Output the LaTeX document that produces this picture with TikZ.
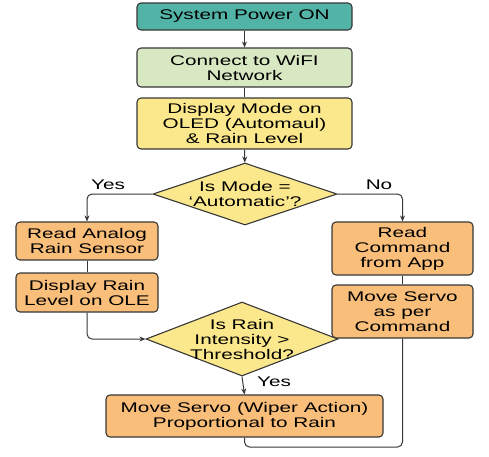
\documentclass[tikz,border=0pt]{standalone}
\usepackage{fontspec}
\setmainfont{Liberation Sans}[FakeStretch=1.48]
\usetikzlibrary{positioning,arrows.meta,shapes.geometric}
\definecolor{tealstart}{RGB}{82,180,166}
\definecolor{greenwifi}{RGB}{216,232,194}
\definecolor{yellowbox}{RGB}{252,232,140}
\definecolor{orangebox}{RGB}{248,190,122}
\definecolor{edgegray}{RGB}{55,55,55}

\tikzset{
  flowbox/.style={draw=edgegray,line width=1.1pt,rounded corners=4pt,
    align=center,inner sep=2pt,font=\fontsize{14}{15}\selectfont},
  decision/.style={draw=edgegray,line width=1.1pt,diamond,fill=yellowbox,
    align=center,inner xsep=-45pt,inner ysep=-16pt,
    font=\fontsize{14}{15}\selectfont},
  link/.style={draw=edgegray,line width=1pt,rounded corners=5pt},
  arrowlink/.style={link,-{Stealth[length=6pt,width=5pt]}},
  branchtxt/.style={font=\fontsize{14}{15}\selectfont,inner sep=0pt}
}

\begin{document}
\begin{tikzpicture}[x=1pt,y=-1pt]
  \useasboundingbox (0,0) rectangle (489,456);

  % main column
  \node[flowbox,fill=tealstart,minimum width=215pt,minimum height=27pt]
    (power) at (244.5,16.5) {System Power ON};
  \node[flowbox,fill=greenwifi,minimum width=215pt,minimum height=39pt]
    (wifi) at (244.5,67.5) {Connect to WiFI\\Network};
  \node[flowbox,fill=yellowbox,minimum width=215pt,minimum height=51pt]
    (display) at (244.5,123.5) {Display Mode on\\OLED (Automaul)\\\& Rain Level};
  \node[decision,minimum width=184pt,minimum height=62pt]
    (mode) at (245,194) {Is Mode =\\`Automatic'?};

  % automatic branch
  \node[flowbox,fill=orangebox,minimum width=142pt,minimum height=38pt]
    (readsens) at (87,241) {Read Analog\\Rain Sensor};
  \node[flowbox,fill=orangebox,minimum width=142pt,minimum height=39pt]
    (disprain) at (87,292.5) {Display Rain\\Level on OLE};

  % manual branch
  \node[flowbox,fill=orangebox,minimum width=141pt,minimum height=53pt]
    (readcmd) at (402.5,248.5) {Read\\Command\\from App};
  \node[flowbox,fill=orangebox,minimum width=141pt,minimum height=53pt]
    (movecmd) at (402.5,311.5) {Move Servo\\as per\\Command};

  \node[decision,minimum width=192pt,minimum height=74pt]
    (intensity) at (242,339) {Is Rain\\Intensity >\\Threshold?};
  \node[flowbox,fill=orangebox,minimum width=277pt,minimum height=42pt]
    (wiper) at (244.5,416) {Move Servo (Wiper Action)\\Proportional to Rain};

  \node[branchtxt] (yesmode) at (108,185) {Yes};
  \node[branchtxt] (nomode) at (379,185) {No};
  \node[branchtxt] (yesrain) at (274,382) {Yes};
  \coordinate (loopend) at (244.5,447);

  % connectors
  \draw[arrowlink] (power) -- (wifi);
  \draw[link] (wifi) -- (display);
  \draw[arrowlink] (display) -- (mode);
  \draw[arrowlink] (mode.west) -| (readsens.north);
  \draw[arrowlink] (mode.east) -| (readcmd.north);
  \draw[link] (readsens) -- (disprain);
  \draw[link] (readcmd) -- (movecmd);
  \draw[arrowlink] (disprain.south) |- (intensity.west);
  \draw[arrowlink] (intensity.south) -- (wiper.north);
  \draw[link] (movecmd.south) |- (loopend) -- (wiper.south);
\end{tikzpicture}
\end{document}
